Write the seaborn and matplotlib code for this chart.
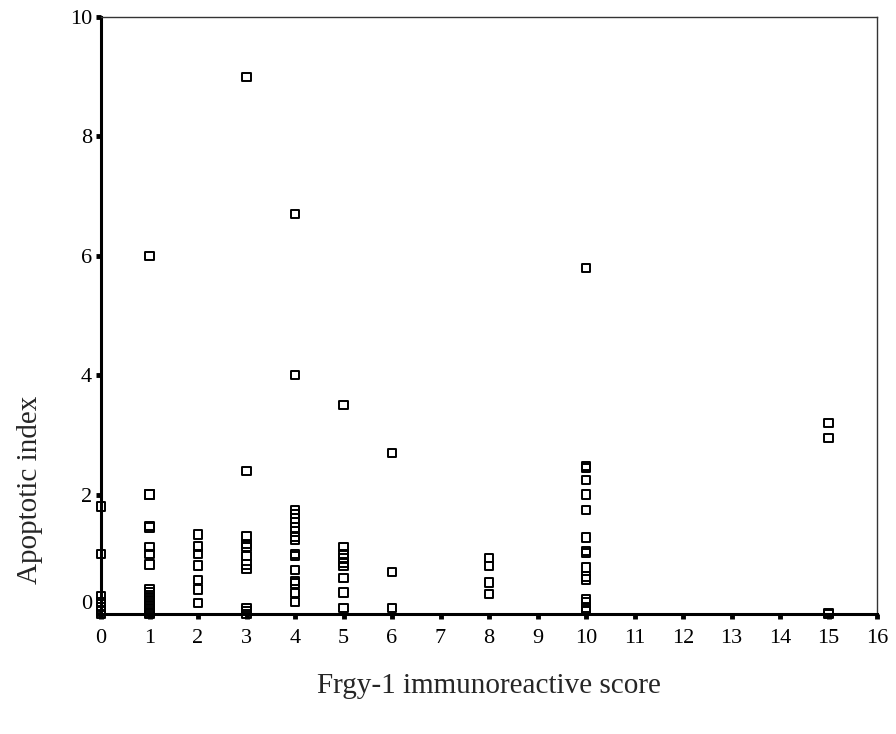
import pandas as pd
import matplotlib
matplotlib.use('Agg')
import matplotlib.pyplot as plt
import matplotlib.transforms as mtransforms
import seaborn as sns

# Apoptotic index values, grouped by Frgy-1 score
score_0 = [1.8, 1.0, 0.3, 0.2, 0.12, 0.05, 0.0]
score_1 = [6.0, 2.0, 2.0, 1.47, 1.45, 1.12, 1.0, 0.83, 0.42, 0.37, 0.32,
           0.27, 0.22, 0.15, 0.1, 0.05, 0.02, 0.0]
score_2 = [1.33, 1.13, 1.0, 0.81, 0.57, 0.41, 0.18]
score_3 = [9.0, 2.4, 1.3, 1.17, 1.12, 0.97, 0.83, 0.75, 0.1, 0.05, 0.0]
score_4 = [6.7, 4.0, 1.74, 1.67, 1.6, 1.53, 1.45, 1.38, 1.29, 1.24, 1.0,
           0.97, 0.74, 0.55, 0.51, 0.35, 0.2]
score_5 = [3.5, 1.12, 1.0, 0.93, 0.85, 0.8, 0.6, 0.36, 0.1]
score_6 = [2.7, 0.7, 0.1]
score_8 = [0.94, 0.8, 0.53, 0.33]
score_10 = [5.8, 2.48, 2.45, 2.24, 2.0, 1.74, 1.28, 1.06, 1.02, 0.78, 0.63,
            0.58, 0.25, 0.2, 0.1, 0.05]
score_15 = [3.2, 2.95, 0.02, 0.0]

groups = {0: score_0, 1: score_1, 2: score_2, 3: score_3, 4: score_4,
          5: score_5, 6: score_6, 8: score_8, 10: score_10, 15: score_15}

rows = []
for score, vals in groups.items():
    for v in vals:
        rows.append({'score': score, 'apoptotic': v})
df = pd.DataFrame(rows)

x_ticks = list(range(0, 17))
y_ticks = [0, 2, 4, 6, 8, 10]

sns.set_style('white')
plt.rcParams['font.family'] = ['Liberation Serif', 'DejaVu Serif']

fig = plt.figure(figsize=(8.96, 7.34), dpi=100)
ax = fig.add_axes([101 / 896, 1 - 614 / 734, 776 / 896, 597 / 734])

sns.scatterplot(data=df, x='score', y='apoptotic', marker='s', s=36,
                color='black', linewidth=1.4, ax=ax, zorder=5, clip_on=False)
for coll in ax.collections:
    coll.set_facecolor('none')
    coll.set_edgecolor('black')

ax.set_xlim(0, 16)
ax.set_ylim(0, 10)
ax.set_xticks(x_ticks)
ax.set_yticks(y_ticks)
ax.tick_params(axis='both', direction='out', length=3.5, width=3.5,
               color='black', labelsize=16, labelcolor='black',
               bottom=True, left=True, top=False, right=False)
ax.tick_params(axis='y', pad=3)
ax.tick_params(axis='x', pad=7)

for side in ['left', 'bottom']:
    ax.spines[side].set_linewidth(2.2)
    ax.spines[side].set_color('black')
for side in ['top', 'right']:
    ax.spines[side].set_linewidth(1.0)
    ax.spines[side].set_color('#333333')

# the "0" label sits a little above the axis line in the original
lbl0 = ax.get_yticklabels()[0]
lbl0.set_transform(lbl0.get_transform() +
                   mtransforms.ScaledTranslation(0, 0.12, fig.dpi_scale_trans))

ax.set_xlabel('')
ax.set_ylabel('')
fig.text(489 / 896, 1 - 686 / 734, 'Frgy-1 immunoreactive score',
         ha='center', va='center', fontsize=21)
fig.text(30 / 896, 1 - 490 / 734, 'Apoptotic index', rotation=90,
         ha='center', va='center', fontsize=21)

fig.savefig('out.png', dpi=100)
